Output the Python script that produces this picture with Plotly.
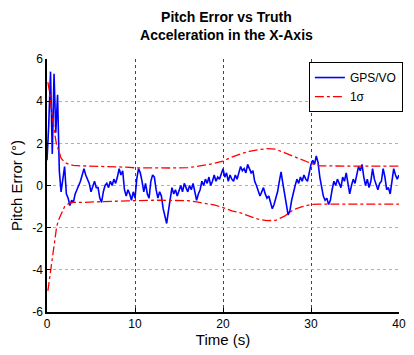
import plotly.graph_objects as go

# Blue: GPS/VO pitch error, sampled every 0.2 s from 0 to 40 s
pitch_error = [
    1.2, 2.9, 5.4, 1.5, 5.3, 2.5, 4.3, 0.7, -0.3, 0.2,
    0.9, -0.4, -0.6, -0.95, -0.7, -0.8, -0.4, -0.2, 0.0, 0.2,
    0.5, 0.8, 0.5, 0.3, 0.1, -0.3, 0.0, 0.2, -0.1, -0.1,
    -0.6, -0.8, -0.3, 0.0, 0.1, -0.1, 0.2, 0.0, 0.3, 0.1,
    0.4, 0.8, 0.5, 0.7, -0.2, -0.5, -0.2, -0.4, -0.7, -0.3,
    -0.6, 0.3, 0.8, 0.6, 0.2, -0.3, 0.1, -0.4, -0.6, 0.2,
    0.5, 0.4, -0.2, -0.6, -0.3, -0.5, -1.1, -1.5, -1.8, -1.2,
    -0.5, -0.1, -0.4, -0.2, -0.5, -0.2, 0.0, -0.3, 0.1, -0.1,
    -0.3, 0.0, -0.2, 0.1, -0.3, -0.7, -0.4, -0.2, 0.2, 0.0,
    0.3, 0.1, 0.4, 0.0, 0.2, 0.5, 0.2, 0.4, 0.3, 0.6,
    0.8, 0.4, 0.6, 0.2, 0.5, 0.3, 0.2, 0.5, 0.3, 0.6,
    0.9, 0.7, 0.8, 0.6, 1.0, 0.8, 0.6, 0.7, 0.2, 0.0,
    -0.3, -0.5, -0.3, -0.1, -0.4, -0.6, -0.5, -0.8, -1.1, -0.9,
    -0.6, -0.3, 0.2, 0.65, 0.1, -0.5, -0.9, -1.4, -1.2, -0.7,
    -0.3, 0.0, 0.3, 0.1, 0.4, 0.2, 0.5, 0.3, 0.2, 0.6,
    1.0, 1.2, 1.0, 1.4, 1.1, 0.4, 0.0, -0.5, -0.7, -0.6,
    -0.9, -0.7, -0.2, 0.2, 0.0, 0.3, 0.1, -0.1, 0.4, 0.2,
    0.6, 0.1, -0.4, 0.0, 0.3, 0.1, 0.6, 0.9, 0.7, 1.0,
    0.4, 0.0, 0.3, -0.1, 0.2, 0.8, 0.3, 0.0, -0.2, 0.1,
    0.2, 0.8, 0.4, -0.2, -0.1, -0.4, 0.3, 0.8, 0.5, 0.3,
    0.5,
]
time_s = [round(0.2 * i, 1) for i in range(len(pitch_error))]

# Red: 1-sigma envelope
sigma_time = [0.1, 0.3, 0.5, 0.7, 0.9, 1.1, 1.3, 1.6, 2.0, 2.5,
              3, 4, 5, 6, 7, 8, 9, 10, 11, 12, 13, 14, 15, 16, 17, 18, 19, 20,
              21, 22, 23, 24, 25, 26, 27, 28, 29, 30, 31, 32,
              33, 34, 35, 36, 37, 38, 39, 40]
sigma_upper = [4.9, 4.4, 3.6, 2.9, 2.4, 1.9, 1.7, 1.3, 1.1, 1.0,
               0.95, 0.93, 0.92, 0.92, 0.9, 0.9, 0.87, 0.84, 0.83, 0.83, 0.83, 0.83,
               0.84, 0.85, 0.9, 0.97, 1.05, 1.15, 1.35, 1.5, 1.62, 1.7, 1.75, 1.72,
               1.55, 1.38, 1.2, 1.05, 0.93, 0.92,
               0.92, 0.92, 0.92, 0.92, 0.92, 0.92, 0.92, 0.92]
sigma_lower = [-5.0, -4.4, -3.7, -3.0, -2.4, -1.95, -1.65, -1.4, -1.0, -0.85,
               -0.8, -0.8, -0.78, -0.78, -0.76, -0.75, -0.73, -0.72, -0.7, -0.7,
               -0.7, -0.7, -0.7, -0.72, -0.78, -0.85, -0.92, -1.05, -1.2, -1.3,
               -1.45, -1.6, -1.67, -1.65, -1.45, -1.15, -1.0, -0.9, -0.88, -0.88,
               -0.88, -0.88, -0.88, -0.88, -0.88, -0.88, -0.88, -0.88]

x_ticks = [0, 10, 20, 30, 40]
y_ticks = [-6, -4, -2, 0, 2, 4, 6]

FONT = "Liberation Sans, Arial, Helvetica, sans-serif"

fig = go.Figure()
fig.add_trace(go.Scatter(
    x=time_s, y=pitch_error, mode="lines", name="GPS/VO",
    line=dict(color="#0000ff", width=1.6),
))
fig.add_trace(go.Scatter(
    x=sigma_time + [None] + sigma_time,
    y=sigma_upper + [None] + sigma_lower,
    mode="lines", name="1σ", connectgaps=False,
    line=dict(color="#ff0000", width=1.3, dash="dashdot"),
))

fig.update_layout(
    width=414, height=355,
    margin=dict(l=47, r=8, t=59, b=43),
    paper_bgcolor="white", plot_bgcolor="white",
    font=dict(family=FONT, color="black", size=12),
    title=dict(
        text="<b>Pitch Error vs Truth</b><br><b>Acceleration in the X-Axis</b>",
        x=0.547, xanchor="center", y=1 - 22 / 355, yanchor="middle",
        font=dict(family=FONT, size=14, color="black"),
    ),
    showlegend=True,
    legend=dict(
        x=0.744, y=0.988, xanchor="left", yanchor="top",
        bgcolor="white", bordercolor="black", borderwidth=1,
        font=dict(family=FONT, size=12, color="black"),
        tracegroupgap=0, itemwidth=30,
    ),
)
fig.update_xaxes(
    range=[0, 40], tickvals=x_ticks, ticktext=[str(v) for v in x_ticks],
    showline=True, linecolor="black", linewidth=1.5, mirror=False,
    ticks="inside", ticklen=4, tickcolor="black",
    showgrid=True, gridcolor="#444444", griddash="dot", gridwidth=1,
    zeroline=False,
    title=dict(text="Time (s)", font=dict(family=FONT, size=15), standoff=4),
    tickfont=dict(size=12),
)
fig.update_yaxes(
    range=[-6, 6], tickvals=y_ticks, ticktext=[str(v) for v in y_ticks],
    showline=True, linecolor="black", linewidth=1.5, mirror=False,
    ticks="inside", ticklen=4, tickcolor="black",
    showgrid=True, gridcolor="#b0b0b0", griddash="dot", gridwidth=1,
    zeroline=False,
    title=dict(text="Pitch Error (°)", font=dict(family=FONT, size=15), standoff=6),
    tickfont=dict(size=12),
)

fig.write_html("out.html")
